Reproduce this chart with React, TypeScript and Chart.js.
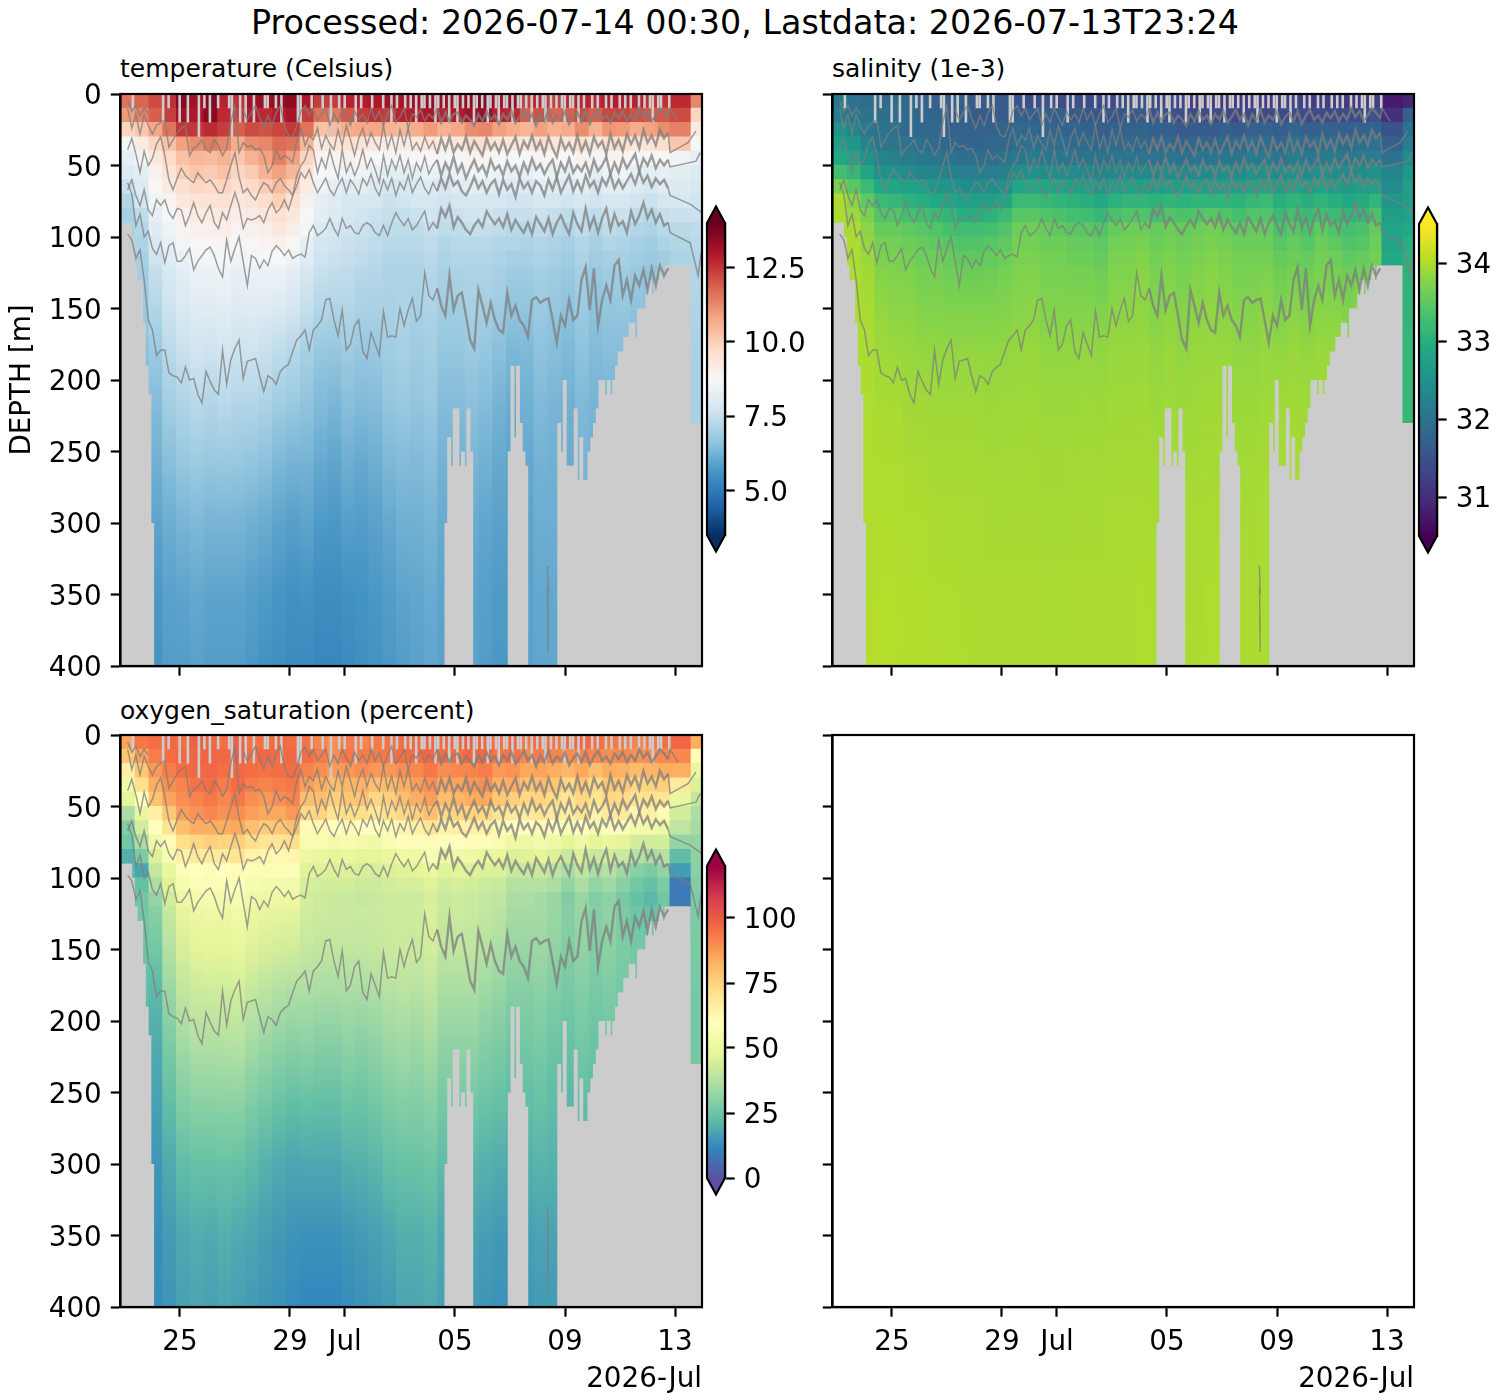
import { useEffect, useRef } from 'react';
import { Chart, registerables } from 'chart.js';

Chart.register(...registerables);

const FONT = 'DejaVu Sans';
const GREY = '#cccccc';
const LINE = 'rgba(125,125,125,0.75)';

// x is days from 1 July
const xMin = -8.16;
const xMax = 12.98;
const DAY_PX = 581.5 / (xMax - xMin);
const tickDays = [-6, -2, 0, 4, 8, 12];
const tickLabels = ['25', '29', 'Jul', '05', '09', '13'];

const depthEdges = [0, 10, 20, 30, 40, 50, 60, 70, 80, 90, 100, 110, 120, 150, 180, 220, 260, 300, 350, 400];
const columnEdges = [
  -8.16, -7.66, -7.16, -6.66, -6.16, -5.66, -5.16, -4.66, -4.16, -3.66,
  -3.16, -2.66, -2.16, -1.66, -1.16, -0.66, -0.16, 0.34, 0.84, 1.34,
  1.84, 2.34, 2.84, 3.34, 3.84, 4.34, 4.84, 5.34, 5.84, 6.34,
  6.84, 7.34, 7.84, 8.34, 8.84, 9.34, 9.84, 10.34, 10.84, 11.34,
  11.78, 12.55, 12.98,
];

// one row per depth band, one value per column
const temperature = [
  [11.6,11.8,12.2,12.6,13.6,13.2,13.6,12.8,12.6,13.2, 13.3,13.4,13.5,13.0,12.4,12.4,12.8,12.9,13.0,13.2, 13.1,13.3,13.4,13.3,13.3,13.5,13.6,13.2,13.4,12.4, 12.8,12.4,12.7,12.8,12.7,12.9,12.9,12.8,12.6,12.6, 12.7,11.3],
  [11.0,11.4,11.9,12.4,13.2,13.0,13.5,12.7,12.4,12.9, 12.7,12.9,13.1,12.4,11.6,11.5,12.0,12.4,12.6,12.4, 12.8,12.9,13.0,12.8,12.9,13.2,13.3,12.8,12.7,11.9, 12.1,11.8,11.9,12.2,11.9,12.3,12.3,12.1,12.0,12.0, 12.2,9.9],
  [9.9,10.2,10.8,11.6,12.5,12.5,12.7,12.4,11.9,12.2, 12.1,12.3,12.5,11.6,10.3,10.4,10.7,10.8,10.8,10.6, 10.5,10.7,11.0,10.6,10.8,11.2,11.3,10.9,10.7,10.5, 10.9,10.6,10.7,11.2,10.6,11.1,11.0,10.7,10.9,11.2, 11.4,9.2],
  [8.7,9.2,9.9,10.3,10.9,11.2,11.5,11.3,10.7,11.2, 11.3,11.7,11.6,10.5,9.3,9.4,9.6,9.5,9.3,9.1, 9.2,9.3,9.4,9.1,9.3,9.6,9.7,9.3,9.4,9.3, 9.6,9.4,9.4,9.6,9.3,9.6,9.6,9.4,9.5,9.7, 10.2,8.7],
  [8.3,8.6,9.3,9.8,10.3,10.5,10.4,10.6,10.2,10.6, 10.9,11.4,10.9,9.9,8.9,8.9,9.0,8.9,8.7,8.6, 8.6,8.7,8.8,8.6,8.7,8.9,8.9,8.7,8.7,8.7, 8.9,8.8,8.7,9.0,8.6,8.9,8.9,8.7,8.8,8.8, 8.5,8.3],
  [8.0,8.2,9.0,9.5,10.0,10.2,10.1,10.3,9.9,10.1, 10.6,10.9,10.5,9.5,8.8,8.6,8.5,8.5,8.3,8.2, 8.2,8.3,8.4,8.2,8.4,8.5,8.5,8.4,8.3,8.3, 8.5,8.4,8.3,8.5,8.2,8.5,8.5,8.3,8.2,8.3, 8.2,8.0],
  [7.6,8.0,8.8,9.2,9.6,9.9,9.8,9.9,9.6,9.8, 10.1,10.4,10.0,9.2,8.5,8.3,8.1,8.2,8.0,7.9, 7.9,8.0,8.1,7.9,8.1,8.2,8.2,8.1,8.0,8.0, 8.2,8.1,8.0,8.2,7.9,8.2,8.2,8.0,7.9,8.1, 8.0,7.9],
  [7.2,7.8,8.5,8.9,9.3,9.5,9.5,9.6,9.3,9.5, 9.7,10.0,9.6,9.0,8.3,8.1,7.9,7.9,7.8,7.6, 7.7,7.8,7.9,7.7,7.8,7.9,7.9,7.8,7.7,7.7, 7.9,7.8,7.7,7.9,7.7,7.9,7.9,7.7,7.6,7.8, 7.9,7.7],
  [7.0,7.4,8.3,8.7,9.0,9.2,9.2,9.3,9.1,9.2, 9.4,9.6,9.3,8.8,8.2,8.0,7.8,7.7,7.6,7.5, 7.5,7.6,7.7,7.5,7.6,7.7,7.7,7.6,7.5,7.5, 7.6,7.5,7.4,7.6,7.4,7.6,7.6,7.4,7.3,7.5, 7.6,7.6],
  [7.0,7.2,8.1,8.5,8.9,9.0,9.0,9.1,8.9,9.0, 9.1,9.3,9.1,8.6,8.0,7.8,7.7,7.6,7.5,7.4, 7.4,7.4,7.5,7.4,7.4,7.5,7.5,7.4,7.3,7.3, 7.4,7.3,7.2,7.4,7.2,7.4,7.3,7.2,7.1,7.3, 7.3,7.4],
  [7.0,7.1,7.9,8.3,8.6,8.8,8.8,8.9,8.7,8.8, 8.9,9.0,8.8,8.3,7.8,7.7,7.6,7.5,7.4,7.3, 7.3,7.3,7.4,7.2,7.3,7.3,7.3,7.2,7.2,7.1, 7.2,7.1,7.0,7.2,7.0,7.2,7.1,7.0,6.9,7.1, 7.2,7.3],
  [6.9,7.0,7.7,8.1,8.4,8.6,8.6,8.7,8.5,8.6, 8.7,8.7,8.5,8.1,7.7,7.6,7.5,7.4,7.3,7.2, 7.2,7.2,7.3,7.1,7.2,7.2,7.2,7.1,7.0,7.0, 7.1,7.0,6.9,7.1,6.9,7.0,7.0,6.9,6.8,6.9, 7.1,7.2],
  [6.8,6.9,7.4,7.8,8.1,8.3,8.3,8.4,8.2,8.3, 8.3,8.3,8.1,7.8,7.5,7.4,7.4,7.2,7.2,7.1, 7.1,7.1,7.2,7.0,7.0,7.1,7.1,7.0,6.8,6.8, 6.9,6.8,6.7,6.9,6.7,6.8,6.8,6.7,6.6,6.7, 7.0,7.2],
  [6.5,6.7,7.0,7.5,7.8,7.9,7.9,8.0,7.9,7.9, 7.8,7.7,7.5,7.2,6.9,6.9,7.0,6.9,6.9,7.0, 7.1,6.9,7.0,6.8,6.8,6.9,6.8,6.7,6.5,6.5, 6.7,6.6,6.5,6.7,6.5,6.6,6.6,6.5,6.4,6.5, 7.0,7.1],
  [6.3,6.4,6.6,7.1,7.3,7.5,7.4,7.5,7.4,7.4, 7.3,7.1,7.0,6.8,6.6,6.5,6.7,6.6,6.6,6.8, 6.9,6.8,6.9,6.6,6.6,6.7,6.6,6.4,6.2,6.3, 6.5,6.4,6.3,6.5,6.4,6.4,6.4,6.3,6.2,6.3, 7.0,7.0],
  [6.1,6.1,6.3,6.7,6.9,7.0,6.9,7.0,6.9,6.9, 6.8,6.6,6.5,6.4,6.2,6.1,6.3,6.2,6.3,6.5, 6.6,6.5,6.6,6.3,6.3,6.4,6.3,6.1,6.0,6.1, 6.3,6.2,6.1,6.3,6.2,6.2,6.2,6.1,6.1,6.2, 7.0,7.0],
  [5.9,5.9,6.1,6.3,6.5,6.6,6.5,6.5,6.5,6.4, 6.3,6.1,6.0,6.1,5.9,5.8,6.0,5.9,6.0,6.2, 6.3,6.3,6.4,6.2,6.1,6.2,6.1,6.0,5.9,6.0, 6.2,6.2,6.1,6.3,6.2,6.2,6.2,6.2,6.2,6.2, 7.0,7.0],
  [5.7,5.7,5.8,6.0,6.1,6.2,6.1,6.1,6.1,6.0, 5.9,5.8,5.7,5.8,5.6,5.6,5.7,5.7,5.8,5.9, 6.1,6.1,6.2,6.0,6.0,6.0,5.9,5.8,5.8,5.9, 6.1,6.1,6.1,6.1,6.1,6.1,6.1,6.1,6.1,6.1, 7.0,7.0],
  [5.5,5.5,5.6,5.8,5.8,5.9,5.8,5.8,5.8,5.7, 5.6,5.5,5.4,5.4,5.3,5.3,5.4,5.5,5.6,5.7, 5.8,5.9,6.0,5.9,5.9,5.9,5.8,5.7,5.7,5.9, 6.0,6.0,6.0,6.0,6.0,6.0,6.0,6.0,6.0,6.0, 7.0,7.0],
];

const salinity = [
  [32.1,32.0,31.95,31.9,31.9,31.85,31.8,31.75,31.7,31.7, 31.65,31.65,31.65,31.5,31.45,31.5,31.45,31.45,31.4,31.4, 31.4,31.45,31.5,31.4,31.3,31.3,31.2,31.2,31.2,31.15, 31.2,31.2,31.2,31.3,31.2,31.2,31.2,31.15,31.2,31.25, 30.8,30.9],
  [32.2,32.1,32.0,31.95,31.95,31.85,31.85,31.8,31.7,31.7, 31.65,31.65,31.65,31.7,31.7,31.7,31.7,31.65,31.6,31.6, 31.6,31.6,31.65,31.55,31.5,31.45,31.4,31.4,31.4,31.35, 31.4,31.4,31.4,31.45,31.4,31.4,31.4,31.4,31.4,31.5, 31.05,31.7],
  [32.5,32.3,32.1,32.0,32.0,31.9,31.85,31.85,31.75,31.75, 31.75,31.75,31.8,31.85,31.85,31.8,31.8,31.8,31.75,31.7, 31.75,31.75,31.8,31.7,31.7,31.65,31.65,31.65,31.7,31.65, 31.75,31.75,31.7,31.8,31.7,31.75,31.75,31.7,31.75,31.8, 31.5,32.0],
  [32.7,32.6,32.3,32.1,32.1,32.0,31.95,31.9,31.85,31.8, 31.8,31.85,31.85,31.95,32.0,31.95,31.95,31.9,31.9,31.85, 31.9,31.9,31.9,31.85,31.85,31.8,31.85,31.85,31.9,31.85, 31.95,31.95,31.85,32.0,31.9,31.95,31.95,31.9,31.95,32.0, 31.75,32.2],
  [32.9,32.8,32.5,32.3,32.25,32.15,32.1,32.05,32.0,31.95, 31.95,31.95,32.0,32.1,32.15,32.1,32.1,32.05,32.05,32.0, 32.05,32.05,32.05,32.0,32.05,32.0,32.05,32.05,32.1,32.05, 32.15,32.15,32.05,32.2,32.1,32.15,32.15,32.1,32.15,32.2, 32.0,32.4],
  [33.3,33.15,32.8,32.5,32.5,32.4,32.3,32.3,32.25,32.2, 32.2,32.2,32.25,32.45,32.5,32.45,32.45,32.4,32.35,32.3, 32.35,32.4,32.4,32.35,32.4,32.35,32.4,32.4,32.45,32.4, 32.5,32.5,32.4,32.5,32.4,32.5,32.45,32.4,32.45,32.5, 32.3,32.6],
  [33.7,33.45,33.2,32.9,32.85,32.75,32.7,32.6,32.55,32.45, 32.45,32.45,32.5,32.85,32.9,32.85,32.8,32.75,32.7,32.6, 32.7,32.75,32.75,32.7,32.75,32.7,32.75,32.75,32.75,32.7, 32.8,32.85,32.7,32.8,32.7,32.8,32.7,32.65,32.7,32.75, 32.4,32.7],
  [34.0,33.8,33.5,33.2,33.15,33.05,33.0,32.9,32.85,32.75, 32.75,32.75,32.85,33.2,33.2,33.15,33.1,33.05,33.0,32.9, 33.05,33.1,33.1,33.05,33.1,33.05,33.1,33.1,33.1,33.05, 33.15,33.2,33.0,33.1,33.0,33.1,33.0,32.9,32.95,33.1, 32.6,32.7],
  [34.0,33.9,33.7,33.4,33.4,33.3,33.25,33.2,33.1,33.0, 33.0,33.05,33.2,33.45,33.45,33.4,33.35,33.3,33.25,33.15, 33.35,33.4,33.4,33.3,33.4,33.35,33.4,33.45,33.4,33.3, 33.4,33.4,33.2,33.3,33.2,33.3,33.2,33.1,33.15,33.35, 32.7,32.8],
  [33.95,34.0,33.8,33.55,33.55,33.5,33.45,33.4,33.3,33.25, 33.25,33.3,33.4,33.6,33.6,33.55,33.5,33.45,33.45,33.4, 33.55,33.6,33.6,33.55,33.6,33.55,33.6,33.65,33.6,33.5, 33.55,33.55,33.35,33.45,33.35,33.5,33.4,33.3,33.35,33.55, 32.8,32.9],
  [33.95,34.0,33.85,33.65,33.65,33.6,33.55,33.5,33.45,33.4, 33.4,33.45,33.5,33.65,33.65,33.6,33.6,33.55,33.55,33.5, 33.65,33.65,33.7,33.6,33.65,33.6,33.65,33.7,33.65,33.6, 33.6,33.6,33.45,33.55,33.45,33.6,33.5,33.4,33.45,33.6, 32.8,33.0],
  [33.95,34.0,33.9,33.7,33.7,33.65,33.6,33.6,33.55,33.5, 33.5,33.55,33.6,33.7,33.7,33.65,33.65,33.6,33.6,33.55, 33.7,33.7,33.75,33.65,33.7,33.65,33.7,33.75,33.7,33.65, 33.65,33.65,33.55,33.6,33.55,33.65,33.6,33.5,33.55,33.65, 32.9,33.05],
  [33.95,34.0,33.95,33.8,33.75,33.75,33.7,33.7,33.65,33.65, 33.65,33.65,33.7,33.75,33.75,33.7,33.7,33.7,33.7,33.65, 33.75,33.75,33.8,33.7,33.75,33.7,33.75,33.8,33.75,33.7, 33.7,33.75,33.65,33.7,33.65,33.7,33.7,33.65,33.7,33.7, 33.0,33.05],
  [33.95,34.0,34.0,33.9,33.85,33.85,33.8,33.8,33.8,33.8, 33.8,33.8,33.8,33.82,33.85,33.8,33.8,33.8,33.8,33.8, 33.85,33.85,33.85,33.8,33.85,33.8,33.85,33.85,33.85,33.8, 33.8,33.85,33.8,33.85,33.8,33.85,33.85,33.8,33.85,33.85, 33.1,33.15],
  [33.95,34.0,34.0,33.95,33.95,33.9,33.9,33.9,33.9,33.9, 33.9,33.88,33.9,33.9,33.9,33.88,33.88,33.88,33.9,33.88, 33.9,33.9,33.92,33.88,33.9,33.88,33.9,33.92,33.9,33.88, 33.88,33.9,33.9,33.92,33.9,33.92,33.92,33.9,33.92,33.92, 33.1,33.15],
  [33.95,34.0,34.02,34.0,34.0,33.98,33.96,33.95,33.95,33.95, 33.95,33.93,33.93,33.94,33.94,33.93,33.93,33.93,33.94,33.93, 33.95,33.95,33.96,33.93,33.95,33.93,33.94,33.96,33.95,33.93, 33.93,33.95,33.95,33.96,33.95,33.96,33.96,33.95,33.96,33.96, 33.1,33.15],
  [33.95,34.0,34.02,34.02,34.02,34.0,34.0,33.98,33.98,33.97, 33.97,33.96,33.96,33.96,33.96,33.95,33.95,33.96,33.96,33.96, 33.97,33.97,33.98,33.96,33.97,33.96,33.97,33.98,33.97,33.96, 33.96,33.97,33.97,33.98,33.97,33.98,33.98,33.97,33.98,33.98, 33.1,33.15],
  [33.95,34.0,34.03,34.04,34.04,34.02,34.02,34.0,34.0,33.99, 33.99,33.98,33.98,33.98,33.98,33.97,33.97,33.98,33.98,33.98, 33.99,33.99,34.0,33.98,33.99,33.98,33.99,34.0,33.99,33.98, 33.98,33.99,33.99,34.0,33.99,34.0,34.0,33.99,34.0,34.0, 33.1,33.15],
  [33.95,34.0,34.05,34.05,34.05,34.04,34.04,34.02,34.02,34.01, 34.0,34.0,34.0,34.0,34.0,33.99,33.99,34.0,34.0,34.0, 34.0,34.0,34.02,34.0,34.0,34.0,34.0,34.02,34.0,34.0, 34.0,34.0,34.0,34.02,34.0,34.02,34.02,34.0,34.02,34.02, 33.1,33.15],
];

const oxygen = [
  [86,94,96,97,96,99,97,96,99,95, 96,97,96,95,92,90,93,92,94,95, 96,97,98,97,98,99,98,96,97,94, 96,95,97,98,96,94,93,92,94,96, 98,84],
  [78,86,93,96,97,98,98,97,99,96, 97,96,97,96,93,90,94,93,93,94, 96,96,98,96,96,97,97,94,95,91, 93,92,90,92,91,90,91,89,90,91, 91,62],
  [66,78,88,93,96,97,97,96,97,96, 95,96,96,92,90,87,88,90,88,88, 90,91,94,90,91,92,93,88,89,85, 86,84,82,85,80,84,83,81,82,84, 84,50],
  [54,72,84,90,92,95,96,93,96,93, 92,93,94,87,84,80,82,83,80,81, 84,87,90,85,86,88,90,83,84,79, 80,78,74,78,73,78,77,74,75,76, 68,46],
  [48,60,79,86,90,92,94,91,94,90, 88,90,92,80,80,76,78,79,74,76, 80,84,87,80,82,84,85,78,76,74, 75,73,70,74,70,74,73,70,71,70, 50,41],
  [36,50,66,78,87,89,91,89,90,87, 85,85,88,74,75,70,72,72,69,71, 74,76,80,74,75,75,74,70,68,68, 70,68,66,70,65,68,68,64,66,62, 44,36],
  [29,44,60,70,80,84,84,84,85,80, 77,78,80,62,63,60,62,60,60,62, 64,66,70,65,66,66,66,62,60,60, 62,60,57,60,55,60,58,54,54,52, 40,35],
  [26,36,53,62,72,74,76,75,76,72, 70,70,72,56,56,54,55,54,53,56, 58,58,62,58,60,58,58,56,52,52, 54,52,48,52,48,50,48,44,44,44, 32,32],
  [20,28,46,56,66,68,68,68,70,65, 64,63,64,52,50,49,50,48,48,50, 52,52,56,52,53,52,50,50,46,47, 48,46,42,46,42,44,42,38,36,38, 23,31],
  [22,18,41,50,58,60,61,60,62,58, 57,57,58,47,47,46,46,45,45,46, 47,48,50,47,48,47,46,46,42,42, 42,40,36,40,36,38,34,30,28,32, 16,30],
  [26,24,36,47,55,57,57,57,59,55, 54,54,54,45,44,44,44,43,43,44, 45,45,47,44,45,44,43,42,38,38, 38,36,32,36,32,34,30,26,24,28, 9,29],
  [26,26,32,44,52,54,55,54,56,53, 52,52,52,44,43,42,42,41,42,43, 43,43,45,42,43,42,41,40,36,36, 35,33,29,33,29,31,27,24,22,26, 9,28],
  [26,26,28,40,47,50,51,50,52,49, 48,47,47,44,43,43,43,43,43,44, 44,44,46,42,43,42,41,39,35,35, 35,33,30,33,30,32,29,27,26,28, 28,28],
  [24,24,24,36,43,45,46,46,47,44, 42,41,40,39,38,38,38,38,39,40, 41,40,42,38,38,38,36,34,31,31, 32,30,28,30,28,29,27,26,25,26, 27,27],
  [22,22,20,30,37,40,40,40,41,38, 36,34,33,34,33,33,34,33,34,36, 37,36,38,34,34,34,32,30,28,28, 29,27,26,28,26,27,26,25,25,25, 27,27],
  [20,20,18,25,31,33,33,34,34,31, 29,27,26,26,25,25,27,26,28,30, 31,30,32,28,28,28,26,25,23,24, 25,23,22,24,23,23,23,22,22,22, 27,27],
  [18,18,16,21,26,27,27,27,27,25, 23,21,20,21,21,21,23,23,24,26, 27,27,28,25,25,24,23,22,21,22, 23,22,21,22,21,21,21,21,21,21, 27,27],
  [16,16,14,17,20,21,21,22,21,20, 18,17,16,16,16,16,17,18,19,21, 22,22,23,20,20,19,18,17,17,18, 19,19,18,19,18,18,18,18,18,18, 27,27],
  [15,15,13,15,17,18,17,18,17,16, 15,14,13,12,12,12,13,14,15,16, 18,18,19,17,17,16,15,14,14,15, 16,16,16,16,16,16,16,16,16,16, 27,27],
];

// depth where the profiles stop, one value per 0.1 day from the left edge
const bedDepth = [
  90,90,90,90,100,120,130,130,160,190,
  210,300,400,400,400,400,400,400,400,400,
  400,400,400,400,400,400,400,400,400,400,
  400,400,400,400,400,400,400,400,400,400,
  400,400,400,400,400,400,400,400,400,400,
  400,400,400,400,400,400,400,400,400,400,
  400,400,400,400,400,400,400,400,400,400,
  400,400,400,400,400,400,400,400,400,400,
  400,400,400,400,400,400,400,400,400,400,
  400,400,400,400,400,400,400,400,400,400,
  400,400,400,400,400,400,400,400,400,400,
  400,400,400,400,400,400,400,400,300,240,
  260,220,220,260,250,260,220,250,400,400,
  400,400,400,400,400,400,400,400,400,400,
  400,250,190,240,190,230,250,260,400,400,
  400,400,400,400,400,400,400,400,400,230,
  250,200,260,260,260,220,270,240,270,270,
  250,240,230,220,200,200,210,200,210,200,
  190,180,180,170,170,160,160,170,150,150,
  150,140,130,140,130,130,120,130,120,120,
  120,120,120,120,120,120,120,230,230,230,230,230,
];

// depth of the missing surface samples, same 0.1 day grid
const surfaceGap = [
  0,0,0,0,10,0,0,0,0,0,
  0,0,0,0,0,20,0,10,0,0,
  0,20,0,0,20,0,0,0,30,0,
  10,0,20,0,0,10,0,0,0,10,
  30,0,0,20,0,20,0,0,20,0,
  0,0,10,10,0,0,10,0,20,0,
  0,0,0,0,20,20,0,0,0,10,
  0,0,0,10,0,0,30,0,0,10,
  0,10,0,0,0,20,0,10,0,0,
  0,10,0,0,0,10,0,0,20,0,
  10,0,0,10,0,10,0,20,0,10,
  10,0,10,0,20,10,0,10,0,20,
  0,10,20,0,10,0,10,0,20,10,
  0,10,0,20,10,0,10,20,0,10,
  10,0,20,0,10,10,0,10,0,20,
  0,10,0,10,20,0,10,0,10,0,
  10,20,0,10,10,0,20,0,10,0,
  0,10,0,10,0,0,10,0,10,0,
  0,10,0,10,0,10,0,0,10,0,
  10,0,10,20,0,10,10,0,0,10,
  0,0,0,0,0,0,0,0,0,0,0,0,
];

// contour depths, one value per 0.15 day from day -7.9
const contourStart = -7.9;
const contourStep = 0.15;
const contourT = [
  5,12,8,15,10,14,null,null,null,null,
  null,null,null,null,null,null,null,null,null,null,
  null,null,null,null,null,null,null,null,11,18,
  13,8,17,24,15,22,13,8,22,29,
  30,22,12,8,15,10,18,14,10,22,
  14,20,10,16,22,12,18,14,20,10,
  18,12,22,14,8,20,16,10,24,14,
  16,11,19,14,17,10,20,13,19,14,
  13,20,15,18,22,14,19,12,18,15,
  21,14,18,12,20,16,11,18,14,22,
  14,19,11,20,15,18,12,21,16,13,
  19,12,21,15,11,18,15,20,13,17,
  12,19,14,18,10,16,12,19,15,10,
  13,17,
];
const contourA = [
  10,24,14,28,15,22,28,22,20,18,
  37,32,27,24,22,43,38,36,32,39,
  41,32,36,43,38,20,8,41,34,37,
  36,39,38,43,55,50,39,46,43,45,
  48,32,24,36,29,32,24,38,29,35,
  39,25,36,22,32,43,31,24,36,27,
  34,39,22,38,29,41,25,36,24,39,
  34,40,30,38,33,42,31,39,30,41,
  35,39,30,41,33,38,43,31,39,34,
  41,32,42,36,30,42,33,38,29,39,
  33,42,30,38,44,31,39,34,41,29,
  40,33,42,30,37,33,42,28,38,32,
  40,28,35,29,38,25,34,29,36,25,
  31,27,
];
const contourB = [
  39,31,42,55,40,50,45,35,30,43,
  60,67,59,52,57,60,62,55,59,62,
  60,64,69,69,60,50,41,58,69,66,
  71,74,67,62,64,69,62,59,64,67,
  71,57,50,46,36,39,55,45,52,39,
  50,59,39,55,48,57,50,39,52,45,
  53,62,43,57,46,53,43,55,46,59,
  48,54,44,56,50,46,57,48,54,44,
  55,49,59,52,46,54,50,57,46,53,
  50,57,47,54,50,58,48,55,45,53,
  49,56,50,46,58,48,54,45,55,50,
  54,48,57,46,54,50,44,56,48,55,
  45,52,47,42,54,45,50,43,52,46,
  50,46,
];
const contourC = [
  67,60,71,78,67,81,85,74,78,74,
  83,87,80,81,92,85,76,85,90,83,
  78,90,94,83,88,78,69,78,94,87,
  88,87,85,90,81,76,83,80,74,81,
  71,64,55,59,53,62,69,64,59,67,
  71,64,59,69,60,64,70,59,64,56,
  66,71,60,67,59,71,62,67,57,69,
  63,58,66,70,62,68,59,66,56,64,
  61,68,71,65,58,66,61,69,63,60,
  70,60,67,63,72,59,66,62,69,61,
  64,71,60,67,58,69,63,57,68,61,
  68,57,65,61,69,59,64,56,66,60,
  66,61,56,63,54,62,57,65,59,63,
  60,66,
];
const contourD = [
  62,70,92,84,100,96,108,112,104,118,
  106,104,117,117,113,108,123,117,113,109,
  107,113,122,128,102,117,108,100,117,134,
  113,115,122,116,120,110,106,109,113,109,
  115,113,112,114,97,92,99,97,94,87,
  94,99,87,94,92,97,98,92,90,92,
  97,99,92,99,90,83,88,92,87,95,
  92,87,82,95,90,94,80,86,78,93,
  86,90,95,98,92,88,93,82,87,91,
  87,93,84,95,88,93,97,90,98,86,
  91,96,87,98,90,85,92,98,83,91,
  96,80,94,86,97,87,80,95,84,92,
  89,97,82,91,85,76,87,81,90,84,
  92,90,
];
const contourE = [
  98,102,115,109,130,158,165,183,179,179,
  195,197,198,202,191,200,199,210,216,194,
  201,207,210,179,203,186,178,172,199,187,
  186,185,197,208,197,199,203,194,191,189,
  180,172,169,165,179,165,162,158,144,143,
  158,169,151,179,175,162,158,180,185,167,
  175,183,152,170,169,170,150,162,151,143,
  159,155,125,141,144,136,148,155,127,151,
  141,139,155,172,178,137,148,160,146,158,
  165,167,139,155,148,158,162,170,144,142,
  146,144,143,158,174,155,162,144,158,155,
  130,121,151,122,162,144,134,144,120,116,
  141,130,144,127,134,123,137,122,134,120,
  127,122,
];
// the thin last stretch after the dense sampling stops
const tailT = { days: [11.82, 12.11], depth: [10, 19] };
const tailA = { days: [11.82, 12.47, 12.76], depth: [41, 34, 26] };
const tailB = { days: [11.82, 12.76, 12.91], depth: [51, 47, 41] };
const tailC = { days: [11.82, 12.55, 12.98], depth: [71, 77, 83] };
const tailD = { days: [11.82, 12.55, 12.84, 12.95], depth: [97, 104, 127, 111] };
const stubDays = [7.36, 7.39, 7.36, 7.39, 7.37, 7.39];
const stubDepth = [330, 350, 345, 375, 365, 390];

const rdbu = ['#053061','#2166ac','#4393c3','#92c5de','#d1e5f0','#f7f7f7','#fddbc7','#f4a582','#d6604d','#b2182b','#67001f'];
const viridis = ['#440154','#482475','#414487','#355f8d','#2a788e','#21918c','#22a884','#44bf70','#7ad151','#bddf26','#fde725'];
const spectral = ['#5e4fa2','#3288bd','#66c2a5','#abdda4','#e6f598','#ffffbf','#fee08b','#fdae61','#f46d43','#d53e4f','#9e0142'];

function colourAt(stops: string[], t: number) {
  const p = Math.min(Math.max(t, 0), 0.9999) * (stops.length - 1);
  const i = Math.floor(p);
  const f = p - i;
  const a = parseInt(stops[i].slice(1), 16);
  const b = parseInt(stops[i + 1].slice(1), 16);
  const mix = (s: number) => Math.round(((a >> s) & 255) * (1 - f) + ((b >> s) & 255) * f);
  return `rgb(${mix(16)},${mix(8)},${mix(0)})`;
}

function contourLine(values: (number | null)[], tail?: { days: number[]; depth: number[] }) {
  const points = values.map((y, i) => ({ x: contourStart + contourStep * i, y }));
  if (tail) tail.days.forEach((x, i) => points.push({ x, y: tail.depth[i] }));
  return {
    type: 'line',
    data: points,
    borderColor: LINE,
    borderWidth: 1.5,
    pointRadius: 0,
    order: 0,
    tension: 0,
    // the profiles get much closer together after early July, the line reads as a rope there
    segment: {
      borderWidth: (ctx: any) => (ctx.p0.parsed.x > 3.2 && ctx.p0.parsed.x < 11.7 ? 2.4 : 1.5),
    },
  };
}

const framePlugin = {
  id: 'frame',
  beforeDatasetsDraw(chart: any) {
    if (!chart.data.datasets.length) return;
    const { left, top, width, height } = chart.chartArea;
    chart.ctx.fillStyle = GREY;
    chart.ctx.fillRect(left, top, width, height);
  },
  afterDraw(chart: any) {
    const { left, top, width, height } = chart.chartArea;
    chart.ctx.strokeStyle = '#000';
    chart.ctx.lineWidth = 2.2;
    chart.ctx.strokeRect(left, top, width, height);
  },
};

// labels sit about 3px too high with a plain middle baseline, an empty first line pushes them down
const tickText = (text: string) => ['', text];
const tickFont = { family: FONT, size: 27.8, lineHeight: '6px' };

type PanelProps = {
  left: number;
  top: number;
  height: number;
  rows?: number[][];
  stops?: string[];
  range?: number[];
  bottomLabels?: boolean;
  depthLabels?: boolean;
  depthTitle?: boolean;
};

function Panel({ left, top, height, rows, stops, range, bottomLabels, depthLabels, depthTitle }: PanelProps) {
  const ref = useRef<HTMLCanvasElement | null>(null);

  useEffect(() => {
    const datasets: any[] = [];
    if (rows && stops && range) {
      const shade = (v: number) => colourAt(stops, (v - range[0]) / (range[1] - range[0]));
      datasets.push(contourLine(contourT, tailT), contourLine(contourA, tailA), contourLine(contourB, tailB));
      datasets.push(contourLine(contourC, tailC), contourLine(contourD, tailD), contourLine(contourE));
      datasets.push({
        type: 'line',
        data: stubDays.map((x, i) => ({ x, y: stubDepth[i] })),
        borderColor: LINE,
        borderWidth: 1.4,
        pointRadius: 0,
        order: 0,
      });
      datasets.push({
        data: surfaceGap.map((d, i) => ({ x: xMin + 0.1 * i + 0.05, y: [0, d] })).filter((p) => p.y[1] > 0),
        backgroundColor: GREY,
        barThickness: 2.6,
        stack: 'cells',
        order: 1,
        inflateAmount: 0,
      });
      datasets.push({
        data: bedDepth.map((d, i) => ({ x: xMin + 0.1 * i + 0.05, y: [d, 400] })).filter((p) => p.y[0] < 400),
        backgroundColor: GREY,
        barThickness: 0.1 * DAY_PX + 1.2,
        stack: 'cells',
        order: 1,
        inflateAmount: 0,
      });
      for (let c = 0; c < columnEdges.length - 1; c++) {
        datasets.push({
          data: rows.map((_, r) => ({
            x: (columnEdges[c] + columnEdges[c + 1]) / 2,
            y: [depthEdges[r], depthEdges[r + 1]],
          })),
          // the deep bands are wider than the real 10 m bins, so blend them into their neighbours
          backgroundColor: (ctx: any) => {
            const r = ctx.dataIndex;
            if (r === undefined || r < 12) return shade(rows[r ?? 0][c]);
            const y = ctx.chart.scales.y;
            const grad = ctx.chart.ctx.createLinearGradient(0, y.getPixelForValue(depthEdges[r]), 0, y.getPixelForValue(depthEdges[r + 1]));
            const below = rows[r + 1] ? rows[r + 1][c] : rows[r][c];
            grad.addColorStop(0, shade((rows[r - 1][c] + rows[r][c]) / 2));
            grad.addColorStop(1, shade((rows[r][c] + below) / 2));
            return grad;
          },
          barThickness: (columnEdges[c + 1] - columnEdges[c]) * DAY_PX,
          stack: 'cells',
          order: 2,
          inflateAmount: 0.5,
        });
      }
    }

    const chart = new Chart(ref.current as HTMLCanvasElement, {
      type: 'bar',
      data: { datasets },
      plugins: [framePlugin],
      options: {
        animation: false,
        responsive: false,
        devicePixelRatio: 1,
        layout: { padding: { left: 0, right: 8, top: 24, bottom: 0 } },
        plugins: { legend: { display: false }, tooltip: { enabled: false } },
        scales: {
          x: {
            type: 'linear',
            min: xMin,
            max: xMax,
            offset: false,
            afterBuildTicks: (scale: any) => {
              scale.ticks = tickDays.map((value) => ({ value }));
            },
            afterFit: (scale: any) => {
              scale.height = bottomLabels ? 90 : 20;
            },
            grid: { offset: false, drawOnChartArea: false, tickLength: 9.7, tickWidth: 2.2, tickColor: '#000' },
            border: { color: '#000', width: 2.2 },
            ticks: {
              autoSkip: false,
              maxRotation: 0,
              padding: 9,
              color: '#000',
              font: { family: FONT, size: 27.8 },
              callback: (_v: any, i: number) => (bottomLabels ? tickLabels[i] : ''),
            },
            title: {
              display: !!bottomLabels,
              text: '2026-Jul',
              align: 'end',
              color: '#000',
              font: { family: FONT, size: 27.8 },
              padding: { top: 0, bottom: 1 },
            },
          },
          y: {
            type: 'linear',
            reverse: true,
            stacked: false,
            min: 0,
            max: 400,
            afterFit: (scale: any) => {
              scale.width = 120.5;
            },
            grid: { offset: false, drawOnChartArea: false, tickLength: 9.7, tickWidth: 2.2, tickColor: '#000' },
            border: { color: '#000', width: 2.2 },
            ticks: {
              stepSize: 50,
              padding: 9,
              color: '#000',
              font: tickFont,
              callback: (v: any) => (depthLabels ? tickText(String(v)) : ''),
            },
            title: {
              display: !!depthTitle,
              text: 'DEPTH [m]',
              color: '#000',
              font: { family: FONT, size: 27.8 },
              padding: { top: 6, bottom: 0 },
            },
          },
        },
      },
    } as any);
    return () => chart.destroy();
  }, []);

  return (
    <canvas
      ref={ref}
      width={710}
      height={height}
      style={{ position: 'absolute', left, top, width: 710, height }}
    />
  );
}

type ColourbarProps = {
  left: number;
  top: number;
  stops: string[];
  range: number[];
  ticks: number[];
  digits: number;
};

function Colourbar({ left, top, stops, range, ticks, digits }: ColourbarProps) {
  const ref = useRef<HTMLCanvasElement | null>(null);

  useEffect(() => {
    const steps = Array.from({ length: 128 }, (_, i) => (i + 0.5) / 128);
    const capsPlugin = {
      id: 'caps',
      afterDraw(chart: any) {
        const { left: l, right: r, top: t, bottom: b } = chart.chartArea;
        const mid = (l + r) / 2;
        const ctx = chart.ctx;
        ctx.fillStyle = stops[stops.length - 1];
        ctx.beginPath();
        ctx.moveTo(l, t);
        ctx.lineTo(mid, t - 16.5);
        ctx.lineTo(r, t);
        ctx.closePath();
        ctx.fill();
        ctx.fillStyle = stops[0];
        ctx.beginPath();
        ctx.moveTo(l, b);
        ctx.lineTo(mid, b + 16.5);
        ctx.lineTo(r, b);
        ctx.closePath();
        ctx.fill();
        ctx.strokeStyle = '#000';
        ctx.lineWidth = 2.2;
        ctx.beginPath();
        ctx.moveTo(l, t);
        ctx.lineTo(mid, t - 16.5);
        ctx.lineTo(r, t);
        ctx.lineTo(r, b);
        ctx.lineTo(mid, b + 16.5);
        ctx.lineTo(l, b);
        ctx.closePath();
        ctx.stroke();
      },
    };
    const chart = new Chart(ref.current as HTMLCanvasElement, {
      type: 'bar',
      data: {
        datasets: [
          {
            data: steps.map((t) => ({ x: 1, y: range[0] + t * (range[1] - range[0]) })),
            backgroundColor: steps.map((t) => colourAt(stops, t)),
            barThickness: 3,
            inflateAmount: 0.4,
          },
        ],
      },
      plugins: [capsPlugin],
      options: {
        indexAxis: 'y',
        animation: false,
        responsive: false,
        devicePixelRatio: 1,
        layout: { padding: { left: 7, right: 0, top: 23, bottom: 25 } },
        plugins: { legend: { display: false }, tooltip: { enabled: false } },
        scales: {
          x: { type: 'linear', min: 0, max: 1, display: false },
          y: {
            type: 'linear',
            position: 'right',
            min: range[0],
            max: range[1],
            offset: false,
            afterBuildTicks: (scale: any) => {
              scale.ticks = ticks.map((value) => ({ value }));
            },
            afterFit: (scale: any) => {
              scale.width = 100;
            },
            grid: { offset: false, drawOnChartArea: false, tickLength: 9.7, tickWidth: 2.2, tickColor: '#000' },
            border: { color: '#000', width: 2.2 },
            ticks: {
              padding: 9,
              color: '#000',
              font: tickFont,
              callback: (v: any) => tickText(Number(v).toFixed(digits)),
            },
          },
        },
      },
    } as any);
    return () => chart.destroy();
  }, []);

  return (
    <canvas
      ref={ref}
      width={125}
      height={360}
      style={{ position: 'absolute', left, top, width: 125, height: 360 }}
    />
  );
}

function Label({ x, y, size, children }: { x: number; y: number; size: number; children: string }) {
  return (
    <div style={{ position: 'absolute', left: x, top: y, fontFamily: FONT, fontSize: size, lineHeight: 1, color: '#000', whiteSpace: 'nowrap' }}>
      {children}
    </div>
  );
}

export default function App() {
  useEffect(() => {
    document.body.style.margin = '0';
  }, []);

  return (
    <div style={{ position: 'relative', width: 1500, height: 1400, background: '#fff', overflow: 'hidden' }}>
      <Label x={251} y={6} size={33.35}>Processed: 2026-07-14 00:30, Lastdata: 2026-07-13T23:24</Label>
      <Label x={120} y={56} size={25}>temperature (Celsius)</Label>
      <Label x={832} y={56} size={25}>salinity (1e-3)</Label>
      <Label x={120} y={698} size={25}>oxygen_saturation (percent)</Label>
      <Panel left={0} top={70} height={616} rows={temperature} stops={rdbu} range={[3.5, 14]} depthLabels depthTitle />
      <Panel left={712} top={70} height={616} rows={salinity} stops={viridis} range={[30.5, 34.5]} />
      <Panel left={0} top={711} height={686} rows={oxygen} stops={spectral} range={[0, 120]} depthLabels bottomLabels />
      <Panel left={712} top={711} height={686} bottomLabels />
      <Colourbar left={700} top={200} stops={rdbu} range={[3.5, 14]} ticks={[5, 7.5, 10, 12.5]} digits={1} />
      <Colourbar left={1412} top={201} stops={viridis} range={[30.5, 34.5]} ticks={[31, 32, 33, 34]} digits={0} />
      <Colourbar left={700} top={843} stops={spectral} range={[0, 120]} ticks={[0, 25, 50, 75, 100]} digits={0} />
    </div>
  );
}
